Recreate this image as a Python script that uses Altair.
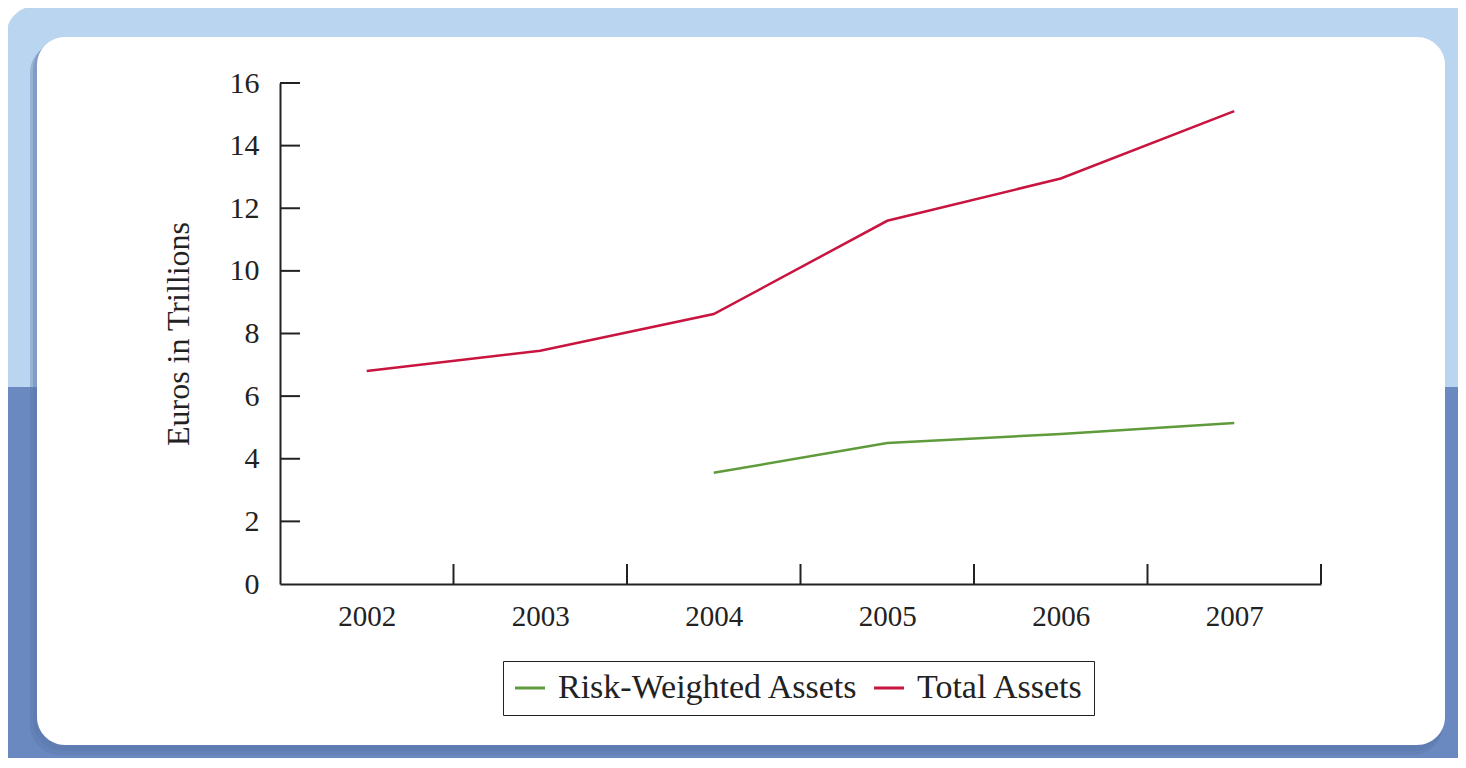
import altair as alt
import pandas as pd

years = [2002, 2003, 2004, 2005, 2006, 2007]
total_assets = [6.8, 7.45, 8.62, 11.6, 12.95, 15.1]
rwa_years = [2004, 2005, 2006, 2007]
risk_weighted = [3.55, 4.5, 4.79, 5.14]
series_names = ["Risk-Weighted Assets", "Total Assets"]
series_colors = ["#5f9b3b", "#c8143f"]
y_tick_values = [0, 2, 4, 6, 8, 10, 12, 14, 16]
x_band_edges = [2002.5, 2003.5, 2004.5, 2005.5, 2006.5, 2007.5]

rows = [{"year": y, "series": "Total Assets", "value": v} for y, v in zip(years, total_assets)]
rows += [{"year": y, "series": "Risk-Weighted Assets", "value": v} for y, v in zip(rwa_years, risk_weighted)]
df = pd.DataFrame(rows)

FONT = "Liberation Serif"
W, H = 1041, 501
xscale = alt.Scale(domain=[2001.5, 2007.5], nice=False, zero=False)
yscale = alt.Scale(domain=[0, 16], nice=False)

xaxis = alt.Axis(values=years, format="d", tickSize=0, labelPadding=18, title=None,
                 grid=False, domainColor="#222", domainWidth=2, zindex=2,
                 labelFont=FONT, labelFontSize=29, labelColor="#222")
yaxis = alt.Axis(values=y_tick_values, tickSize=0, labelPadding=21, grid=False,
                 title="Euros in Trillions", titleFont=FONT, titleFontSize=32,
                 titleFontWeight="normal", titleColor="#222", titlePadding=34,
                 domainColor="#222", domainWidth=2, zindex=2,
                 labelFont=FONT, labelFontSize=30, labelColor="#222")

one = alt.Data(values=[{"k": 1}])

def deco(x, x2, y, y2, fill, radius=0, opacity=1.0):
    return alt.Chart(one).mark_rect(fill=fill, cornerRadius=radius, opacity=opacity).encode(
        x=alt.value(x), x2=alt.value(x2), y=alt.value(y), y2=alt.value(y2)
    )

bg_light = deco(-274, 1200, -77, 700, "#b9d5ef", radius=30)
bg_dark = deco(-274, 1200, 304, 700, "#6b89c1")
shadow1 = deco(-250, 1163, -40, 672, "#5a76aa", radius=30, opacity=0.35)
shadow2 = deco(-247, 1164, -43, 668, "#5a76aa", radius=30, opacity=0.35)
panel = deco(-243, 1165, -46, 662, "#ffffff", radius=28)

lines = alt.Chart(df).mark_line(strokeWidth=2.5).encode(
    x=alt.X("year:Q", scale=xscale, axis=xaxis, title=None),
    y=alt.Y("value:Q", scale=yscale, axis=yaxis, title="Euros in Trillions"),
    color=alt.Color("series:N", scale=alt.Scale(domain=series_names, range=series_colors),
                    legend=alt.Legend(title=None, orient="none", legendX=223, legendY=578,
                                      direction="horizontal", symbolType="stroke",
                                      symbolStrokeWidth=3, symbolSize=900, labelLimit=600,
                                      labelFont=FONT, labelFontSize=34, labelColor="#222",
                                      strokeColor="#222", fillColor="white",
                                      padding=10, columnPadding=9, labelOffset=11)),
)

yticks = alt.Chart(pd.DataFrame({"value": y_tick_values[1:]})).mark_rule(color="#222", strokeWidth=2).encode(
    y=alt.Y("value:Q", scale=yscale, axis=yaxis, title="Euros in Trillions"),
    x=alt.value(0), x2=alt.value(20)
)
xticks = alt.Chart(pd.DataFrame({"year": x_band_edges})).mark_rule(color="#222", strokeWidth=2).encode(
    x=alt.X("year:Q", scale=xscale, axis=xaxis, title=None),
    y=alt.value(H - 20), y2=alt.value(H)
)

chart = alt.layer(bg_light, bg_dark, shadow1, shadow2, panel, lines, yticks, xticks).properties(
    width=W, height=H,
    autosize=alt.AutoSizeParams(type="none"),
    padding={"left": 272, "top": 75, "right": 137, "bottom": 174},
).configure_view(stroke=None)

chart.save("out.html", embed_options={"renderer": "svg", "actions": False})
